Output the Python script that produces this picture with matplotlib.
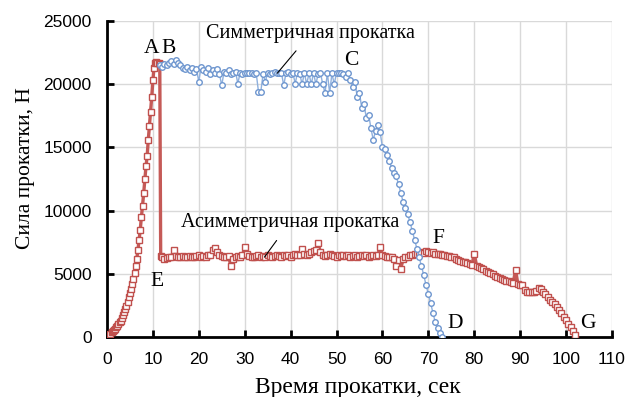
import numpy as np
import matplotlib
matplotlib.use("Agg")
import matplotlib.pyplot as plt

# ---------------- data ----------------
# Asymmetric rolling: rise (0.25 s samples), then plateau/decline (0.5 s samples)
t_asym_rise = np.arange(0.0, 11.51, 0.25)
f_asym_rise = [0, 60, 150, 260, 380, 470, 560, 650, 780, 900,
               1010, 1150, 1300, 1500, 1720, 1950, 2200, 2480, 2800, 3130,
               3450, 3800, 4200, 4600, 5050, 5600, 6200, 6900, 7700, 8500,
               9500, 10400, 11400, 12500, 13500, 14300, 15600, 16700, 17800, 19000,
               20300, 21300, 21700, 21750, 21650, 21700, 21600]
t_asym_drop = [11.7]
f_asym_drop = [6400]
t_asym_rest = np.arange(12.0, 102.01, 0.5)
f_asym_rest = [6300, 6200, 6250, 6350, 6300, 6850, 6400, 6350, 6300, 6400,
               6350, 6300, 6400, 6350, 6300, 6400, 6450, 6350, 6400, 6300,
               6450, 6500, 6900, 7050, 6700, 6500, 6400, 6350, 6300, 6400,
               5600, 6200, 6300, 6400, 6350, 6450, 7100, 6600, 6400, 6350,
               6300, 6400, 6450, 6350, 6400, 6300, 6500, 6400, 6350, 6400,
               6450, 6400, 6350, 6500, 6400, 6450, 6350, 6500, 6600, 6450,
               6500, 7000, 6600, 6500, 6550, 6700, 6800, 6900, 7400, 6700,
               6450, 6400, 6500, 6550, 6450, 6400, 6350, 6450, 6400, 6500,
               6400, 6450, 6350, 6400, 6450, 6350, 6400, 6500, 6400, 6450,
               6350, 6400, 6450, 6400, 6500, 7100, 6500, 6400, 6350, 6300,
               6300, 6200, 5600, 6100, 5400, 6200, 6350, 6300, 6450, 6500,
               6550, 6600, 6650, 6700, 6650, 6800, 6700, 6650, 6700, 6600,
               6600, 6550, 6500, 6450, 6400, 6400, 6350, 6300, 6200, 6100,
               6000, 5950, 5900, 5850, 5800, 5700, 6600, 5650, 5550, 5450,
               5350, 5250, 5150, 5050, 4950, 4850, 4750, 4700, 4600, 4500,
               4450, 4400, 4350, 4300, 5300, 4200, 4150, 4100, 3700, 3600,
               3600, 3550, 3600, 3650, 3850, 3800, 3600, 3400, 3150, 2900,
               2750, 2600, 2400, 2150, 1900, 1600, 1350, 1050, 800, 500,
               150]

# Symmetric rolling (0.5 s samples)
t_sym = np.arange(11.5, 73.01, 0.5)
f_sym = [21500, 21400, 21600, 21500, 21700, 21800, 21600, 21900, 21700, 21500,
         21300, 21200, 21400, 21100, 21300, 21000, 21200, 20200, 21400, 21100,
         21000, 21300, 20800, 21100, 20900, 21200, 20800, 19900, 21000, 20900,
         21100, 20800, 20900, 21000, 20050, 20900, 20800, 20900, 20900, 20850,
         20900, 20800, 20900, 19400, 19400, 20800, 20200, 20900, 20800, 20900,
         21000, 20900, 20850, 20900, 19900, 20900, 20950, 20800, 20900, 20050,
         20900, 20800, 20000, 20900, 20000, 20850, 20000, 20900, 20000, 20800,
         20900, 20000, 19300, 20900, 19300, 20850, 20000, 20900, 20850, 20900,
         20800, 20600, 20850, 20300, 19800, 20200, 19000, 19300, 18100, 18400,
         17300, 17600, 16500, 15600, 16300, 16800, 16200, 15000, 14900, 14400,
         13900, 13400, 13000, 12700, 12100, 11400, 10700, 10200, 9700, 9100,
         8400, 7700, 7000, 6300, 5600, 4900, 4100, 3400, 2700, 1900,
         1200, 700, 300, 0]

x_ticks = list(range(0, 111, 10))
y_ticks = list(range(0, 25001, 5000))

point_labels = ["A", "B", "C", "D", "E", "F", "G"]
point_x = [9.7, 13.4, 53.3, 75.8, 10.8, 72.2, 104.7]
point_y = [22850, 22850, 21900, 1030, 4430, 7830, 1100]

# ---------------- figure ----------------
t_asym = np.concatenate([t_asym_rise, t_asym_drop, t_asym_rest])
f_asym = np.concatenate([f_asym_rise, f_asym_drop, f_asym_rest])

fig = plt.figure(figsize=(6.3, 3.97), dpi=100)
ax = fig.add_axes([0.1698, 0.1511, 0.8016, 0.7960])

red = "#c0504d"
blue = "#6e96cf"
ax.plot(t_asym, f_asym, color="#c55a57", lw=2.4, marker="s", ms=4.2,
        mfc="white", mec=red, mew=1.0, zorder=3)
ax.plot(t_sym, f_sym, color="#8fb0dd", lw=1.0, marker="o", ms=4.0,
        mfc="white", mec=blue, mew=1.0, zorder=4)

ax.set_xlim(0, 110)
ax.set_ylim(0, 25000)
ax.set_xticks(x_ticks)
ax.set_yticks(y_ticks)
ax.grid(True, color="#d9d9d9", lw=1.0, zorder=0)
ax.set_axisbelow(True)
for s in ["top", "right"]:
    ax.spines[s].set_visible(False)
for s in ["left", "bottom"]:
    ax.spines[s].set_linewidth(2.0)
    ax.spines[s].set_color("black")
ax.tick_params(direction="in", length=5, width=2, labelsize=12.5)
ax.tick_params(axis="y", pad=11)
ax.tick_params(axis="x", pad=11)
for lab in ax.get_xticklabels() + ax.get_yticklabels():
    lab.set_fontfamily("Liberation Sans")

serif = "Liberation Serif"
ax.set_xlabel("Время прокатки, сек", fontsize=17, family=serif)
ax.set_ylabel("Сила прокатки, Н", fontsize=15.5, family=serif)
ax.xaxis.set_label_coords(0.496, -0.127)
ax.yaxis.set_label_coords(-0.142, 0.535)

for lab, x, y in zip(point_labels, point_x, point_y):
    ax.text(x, y, lab, fontsize=15.5, family=serif, ha="center", va="center", zorder=6)

ax.annotate("Симметричная прокатка", xy=(37.1, 20870), xytext=(44.4, 24030),
            fontsize=14.5, family=serif, ha="center", va="center",
            arrowprops=dict(arrowstyle="-", color="black", lw=0.8,
                            shrinkA=5, shrinkB=0), zorder=6,
            annotation_clip=False)
ax.annotate("Асимметричная прокатка", xy=(34.3, 6320), xytext=(39.8, 9050),
            fontsize=14.5, family=serif, ha="center", va="center",
            arrowprops=dict(arrowstyle="-", color="black", lw=0.8,
                            shrinkA=5, shrinkB=0), zorder=6)

fig.savefig("out.png", dpi=100)
